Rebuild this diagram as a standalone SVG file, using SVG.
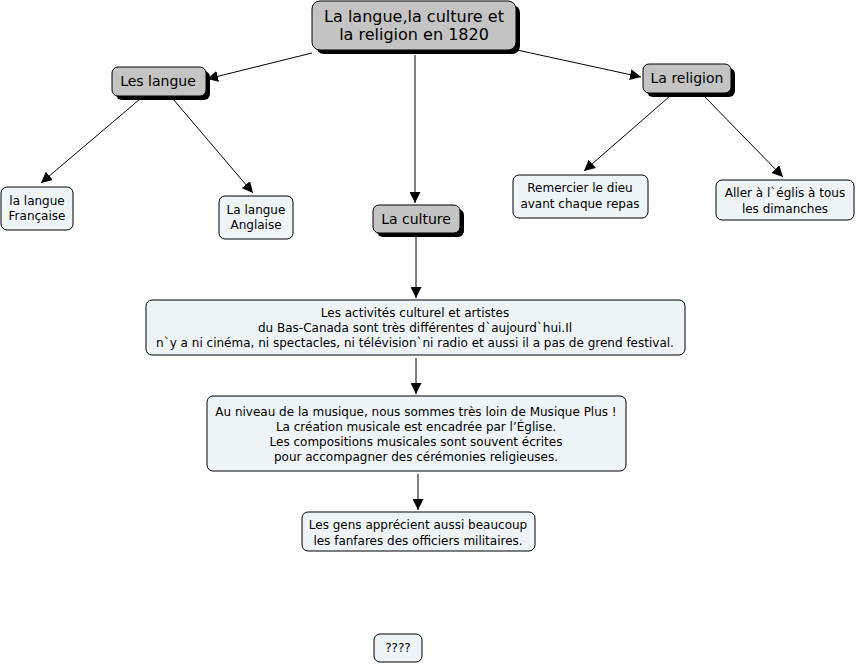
<svg xmlns="http://www.w3.org/2000/svg" width="857" height="669" viewBox="0 0 857 669">
<defs>
<style>
.g{fill:#c4c4c4;stroke:#000;stroke-width:1}
.sh{fill:#000}
.l{fill:#eef3f6;stroke:#000;stroke-width:1}
text{font-family:"DejaVu Sans",Verdana,sans-serif;fill:#000;text-anchor:middle}
.t16{font-size:16px}
.t14{font-size:14px}
.t12{font-size:12px}
.c{stroke:#000;stroke-width:1;fill:none;marker-end:url(#ah)}
</style>
<marker id="ah" viewBox="0 0 10 10" refX="10" refY="5" markerWidth="11" markerHeight="11" markerUnits="userSpaceOnUse" orient="auto">
<path d="M0,0 L10,5 L0,10 z" fill="#000"/>
</marker>
</defs>
<rect width="857" height="669" fill="#fff"/>
<g id="connectors">
<line class="c" x1="312" y1="53" x2="207" y2="79"/>
<line class="c" x1="517" y1="50" x2="641" y2="77"/>
<line class="c" x1="415" y1="55" x2="415" y2="203"/>
<line class="c" x1="140" y1="99" x2="41" y2="183"/>
<line class="c" x1="173" y1="99" x2="253" y2="193"/>
<line class="c" x1="670" y1="96" x2="584" y2="171"/>
<line class="c" x1="704" y1="96" x2="783" y2="177"/>
<line class="c" x1="416" y1="236" x2="416" y2="298"/>
<line class="c" x1="416" y1="358" x2="416" y2="394"/>
<line class="c" x1="418" y1="474" x2="418" y2="510"/>
</g>
<g id="main">
<rect class="sh" x="316" y="5" width="204" height="49" rx="8"/>
<rect class="g" x="312" y="1" width="204" height="49" rx="8"/>
<text class="t16" x="414" y="22">La langue,la culture et</text>
<text class="t16" x="414" y="40">la religion en 1820</text>
</g>
<g id="les-langue">
<rect class="sh" x="116" y="71" width="94" height="29" rx="6"/>
<rect class="g" x="112" y="67" width="94" height="29" rx="6"/>
<text class="t14" x="158" y="86">Les langue</text>
</g>
<g id="la-religion">
<rect class="sh" x="647" y="68" width="88" height="29" rx="6"/>
<rect class="g" x="643" y="64" width="88" height="29" rx="6"/>
<text class="t14" x="687" y="83">La religion</text>
</g>
<g id="la-culture">
<rect class="sh" x="377" y="209" width="87" height="28" rx="6"/>
<rect class="g" x="373" y="205" width="87" height="28" rx="6"/>
<text class="t14" x="416" y="224">La culture</text>
</g>
<g id="francaise">
<rect class="l" x="1" y="187" width="72" height="43" rx="6"/>
<text class="t12" x="37" y="205">la langue</text>
<text class="t12" x="37" y="220">Française</text>
</g>
<g id="anglaise">
<rect class="l" x="219" y="196" width="74" height="43" rx="6"/>
<text class="t12" x="256" y="214">La langue</text>
<text class="t12" x="256" y="229">Anglaise</text>
</g>
<g id="remercier">
<rect class="l" x="513" y="175" width="135" height="43" rx="6"/>
<text class="t12" x="580" y="192">Remercier le dieu</text>
<text class="t12" x="580" y="208">avant chaque repas</text>
</g>
<g id="aller">
<rect class="l" x="716" y="180" width="138" height="40" rx="6"/>
<text class="t12" x="785" y="197">Aller à l`églis à tous</text>
<text class="t12" x="785" y="213">les dimanches</text>
</g>
<g id="activites">
<rect class="l" x="146" y="300" width="539" height="55" rx="6"/>
<text class="t12" x="415" y="317">Les activités culturel et artistes</text>
<text class="t12" x="415" y="332">du Bas-Canada sont très différentes d`aujourd`hui.Il</text>
<text class="t12" x="415" y="347">n`y a ni cinéma, ni spectacles, ni télévision`ni radio et aussi il a pas de grend festival.</text>
</g>
<g id="musique">
<rect class="l" x="207" y="396" width="419" height="75" rx="6"/>
<text class="t12" x="416" y="416">Au niveau de la musique, nous sommes très loin de Musique Plus !</text>
<text class="t12" x="416" y="431">La création musicale est encadrée par l’Église.</text>
<text class="t12" x="416" y="446">Les compositions musicales sont souvent écrites</text>
<text class="t12" x="416" y="461">pour accompagner des cérémonies religieuses.</text>
</g>
<g id="fanfares">
<rect class="l" x="302" y="512" width="233" height="39" rx="6"/>
<text class="t12" x="418" y="529">Les gens apprécient aussi beaucoup</text>
<text class="t12" x="418" y="545">les fanfares des officiers militaires.</text>
</g>
<g id="questions">
<rect class="l" x="374" y="634" width="48" height="28" rx="6"/>
<text class="t12" x="398" y="652">????</text>
</g>
</svg>
